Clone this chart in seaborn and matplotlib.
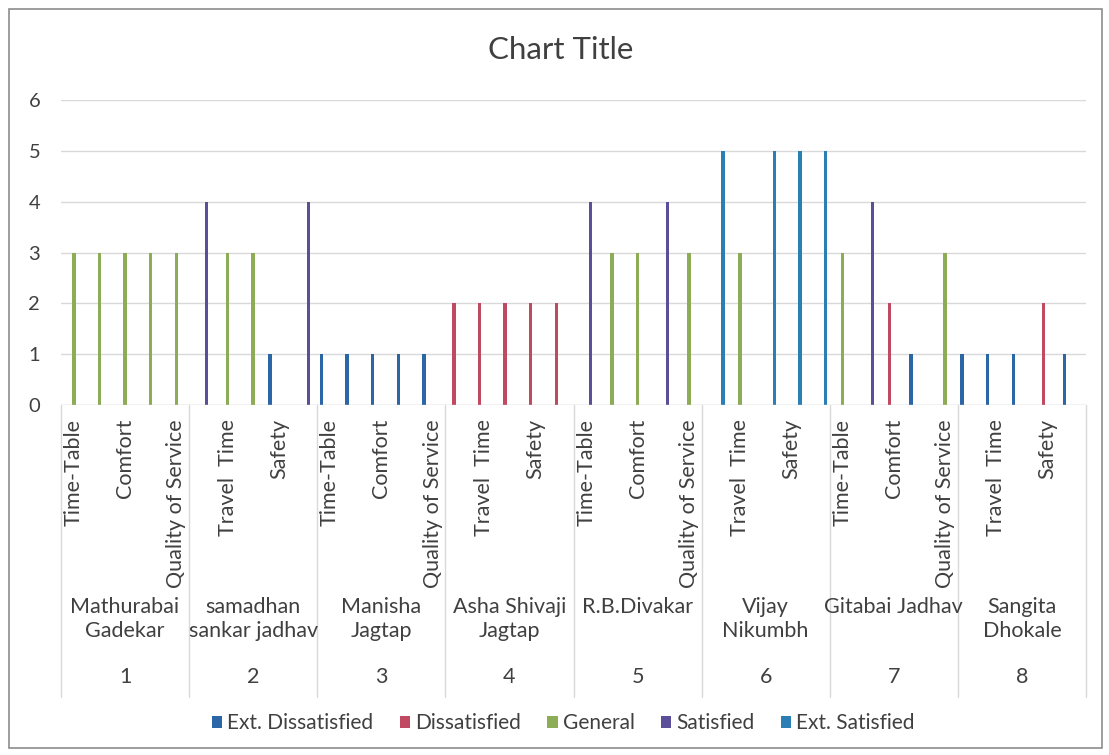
import pandas as pd
import matplotlib.pyplot as plt
import matplotlib.transforms as mtransforms
from matplotlib.patches import Rectangle
import seaborn as sns

sns.set_style("white")
plt.rcParams['font.family'] = ['Lato', 'DejaVu Sans']

# --- data ---
persons = ["Mathurabai\nGadekar", "samadhan\nsankar jadhav", "Manisha\nJagtap",
           "Asha Shivaji\nJagtap", "R.B.Divakar", "Vijay\nNikumbh",
           "Gitabai Jadhav", "Sangita\nDhokale"]
person_no = ["1", "2", "3", "4", "5", "6", "7", "8"]
criteria = ["Time-Table", "Travel  Time", "Comfort", "Safety", "Quality of Service"]
levels = ["Ext. Dissatisfied", "Dissatisfied", "General", "Satisfied", "Ext. Satisfied"]
level_colors = ["#2b66a6", "#bf4a62", "#8cad56", "#5b4f99", "#2c7fb5"]

# rating per criterion (1 = Ext. Dissatisfied ... 5 = Ext. Satisfied)
mathurabai = [3, 3, 3, 3, 3]
samadhan = [4, 3, 3, 1, 4]
manisha = [1, 1, 1, 1, 1]
asha = [2, 2, 2, 2, 2]
divakar = [4, 3, 3, 4, 3]
vijay = [5, 3, 5, 5, 5]
gitabai = [3, 4, 2, 1, 3]
sangita = [1, 1, 1, 2, 1]
ratings = [mathurabai, samadhan, manisha, asha, divakar, vijay, gitabai, sangita]

rows = []
for i, r in enumerate(ratings):
    for crit, v in zip(criteria, r):
        rows.append({"cat": f"{i + 1} {crit}", "crit": crit, "level": levels[v - 1], "value": v})
df = pd.DataFrame(rows)
order = list(df["cat"])

txt = "#404040"
fig = plt.figure(figsize=(11.09, 7.55), dpi=100)
ax = fig.add_axes([61 / 1109, 1 - 405 / 755, 1025 / 1109, 305 / 755])

sns.barplot(data=df, x="cat", y="value", hue="level", hue_order=levels, order=order,
            palette=level_colors, width=0.84, gap=0.2, dodge=True, errorbar=None,
            saturation=1, linewidth=0, ax=ax)

ax.set_ylim(0, 6)
ax.set_xlim(-0.5, len(order) - 0.5)
ax.set_yticks(range(7))
ax.yaxis.grid(True, color="#d9d9d9", lw=1)
ax.set_axisbelow(True)
for s in ax.spines.values():
    s.set_visible(False)
ax.axhline(0, color="#d9d9d9", lw=1)
ax.set_xlabel("")
ax.set_ylabel("")
ax.tick_params(axis="y", length=0, pad=15, labelsize=14.5, labelcolor=txt)

# every other criterion label, like Excel's auto skip
ax.set_xticks(range(len(order)))
ax.set_xticklabels([c if k % 2 == 0 else "" for k, c in enumerate(df["crit"])],
                   rotation=90, va="top", ha="center")
ax.tick_params(axis="x", length=0, pad=10, labelsize=15.5, labelcolor=txt)

# second and third level of the category axis
trans = mtransforms.blended_transform_factory(ax.transData, ax.transAxes)
n = len(criteria)
for g in range(len(persons) + 1):
    xb = g * n - 0.5
    ax.plot([xb, xb], [0, -0.957], transform=trans, clip_on=False, color="#d9d9d9", lw=1)
for g, (name, no) in enumerate(zip(persons, person_no)):
    xc = g * n + (n - 1) / 2
    ax.text(xc, -0.628, name, transform=trans, ha="center", va="top", fontsize=15.5,
            color=txt, linespacing=1.25)
    ax.text(xc, -0.892, no, transform=trans, ha="center", va="center", fontsize=15.5, color=txt)

fig.text(0.506, 0.934, "Chart Title", ha="center", va="center", fontsize=22.5, color=txt)

ax.legend(loc="center", bbox_to_anchor=(0.508, 1 - 723 / 755), bbox_transform=fig.transFigure,
          ncol=5, frameon=False, fontsize=15, handlelength=0.5, handleheight=0.5,
          handletextpad=0.25, columnspacing=1.25, labelcolor=txt)

fig.patches.append(Rectangle((9 / 1109, 1 - 748 / 755), 1093 / 1109, 739 / 755,
                             transform=fig.transFigure, fill=False, edgecolor="#8c8c8c", lw=1.2))

fig.savefig("out.png", dpi=100)
